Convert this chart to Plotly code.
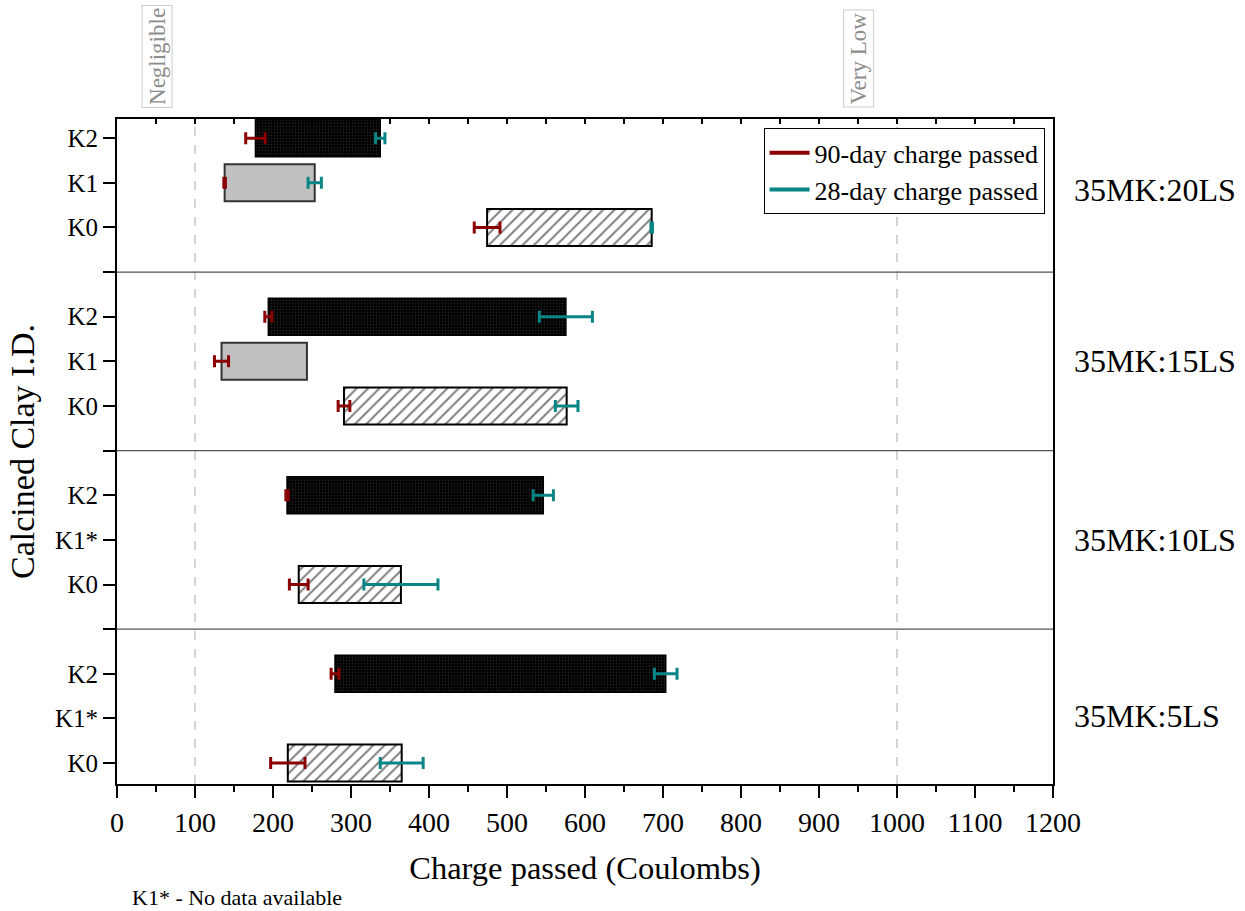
import plotly.graph_objects as go

# ---------------- data ----------------
panels = ["35MK:5LS", "35MK:10LS", "35MK:15LS", "35MK:20LS"]
k1_labels = ["K1*", "K1*", "K1", "K1"]

# 90-day and 28-day charge passed (Coulombs) with error half-widths
K0_90 = [219, 233, 291, 474.5]
K0_90_err = [22, 12, 7.5, 16.5]
K0_28 = [365, 364, 576.5, 685.5]
K0_28_err = [27.5, 47.5, 14.5, 1]

K1_90 = [None, None, 134, 138]
K1_90_err = [None, None, 9, 1]
K1_28 = [None, None, 243.5, 253.5]
K1_28_err = [None, None, None, 8.5]

K2_90 = [279.5, 218, 194, 177.5]
K2_90_err = [5, 1.5, 4.5, 12.5]
K2_28 = [703.5, 546.5, 575.5, 337.5]
K2_28_err = [14.5, 13, 34, 6]

x_ticks = list(range(0, 1201, 100))
class_lines = [100, 1000]
class_labels = ["Negligible", "Very Low"]

FONT = "Liberation Serif"
RED = "#8B0000"
TEAL = "#0A8585"

# positions for each panel
def pos(i, k):
    return 4 * i + k

fig = go.Figure()

def span(a, b):
    return [None if (p is None or q is None) else q - p for p, q in zip(a, b)]

ys0 = [pos(i, 0) for i in range(4)]
ys1 = [pos(i, 1) for i in range(4)]
ys2 = [pos(i, 2) for i in range(4)]

# K0 hatched bars
fig.add_trace(go.Bar(
    y=ys0, x=span(K0_90, K0_28), base=K0_90, orientation="h", width=0.83,
    marker=dict(color="white", line=dict(color="black", width=2),
                pattern=dict(shape="/", bgcolor="white", fgcolor="black", size=8, solidity=0.25)),
    showlegend=False, hoverinfo="skip"))
# K1 grey bars
fig.add_trace(go.Bar(
    y=ys1, x=span(K1_90, K1_28), base=K1_90, orientation="h", width=0.83,
    marker=dict(color="#C0C0C0", line=dict(color="#333333", width=2)),
    showlegend=False, hoverinfo="skip"))
# K2 dark dotted bars
fig.add_trace(go.Bar(
    y=ys2, x=span(K2_90, K2_28), base=K2_90, orientation="h", width=0.83,
    marker=dict(color="black", line=dict(color="black", width=1.5),
                pattern=dict(shape=".", bgcolor="black", fgcolor="#3c3c3c", size=3, solidity=0.3)),
    showlegend=False, hoverinfo="skip"))

# error bars (points without an error value are not drawn)
def add_err(xs, errs, ys, color):
    xx = [x if e is not None else None for x, e in zip(xs, errs)]
    ee = [e if e is not None else 0 for e in errs]
    fig.add_trace(go.Scatter(
        x=xx, y=ys, mode="markers",
        marker=dict(size=1, color=color, opacity=0),
        error_x=dict(type="data", array=ee, symmetric=True, color=color, thickness=3, width=6),
        showlegend=False, hoverinfo="skip"))

add_err(K0_90, K0_90_err, ys0, RED)
add_err(K1_90, K1_90_err, ys1, RED)
add_err(K2_90, K2_90_err, ys2, RED)
add_err(K0_28, K0_28_err, ys0, TEAL)
add_err(K1_28, K1_28_err, ys1, TEAL)
add_err(K2_28, K2_28_err, ys2, TEAL)

# legend entries
fig.add_trace(go.Scatter(x=[None], y=[None], mode="lines", line=dict(color=RED, width=4),
                         name="90-day charge passed"))
fig.add_trace(go.Scatter(x=[None], y=[None], mode="lines", line=dict(color=TEAL, width=4),
                         name="28-day charge passed"))
# invisible trace for top axis
fig.add_trace(go.Scatter(x=[0], y=[0], xaxis="x2", mode="markers",
                         marker=dict(opacity=0), showlegend=False, hoverinfo="skip"))

# y ticks
tickvals, ticktext = [], []
for i in range(4):
    tickvals += [pos(i, 0), pos(i, 1), pos(i, 2)]
    ticktext += ["K0", k1_labels[i], "K2"]
    if i < 3:
        tickvals.append(pos(i, 3))
        ticktext.append("")

shapes = []
for i in range(3):
    shapes.append(dict(type="line", xref="paper", x0=0, x1=1, yref="y", y0=pos(i, 3), y1=pos(i, 3),
                       line=dict(color="#555555", width=1.2), layer="above"))
for v in class_lines:
    shapes.append(dict(type="line", xref="x", x0=v, x1=v, yref="paper", y0=0, y1=1,
                       line=dict(color="#c8c8c8", width=1.5, dash="dash"), layer="below"))

annotations = []
label_y = [1.05, 5.0, 9.0, 12.85]
for i, name in enumerate(panels):
    annotations.append(dict(text=name, xref="paper", x=1.0205, xanchor="left",
                            yref="y", y=label_y[i], yanchor="middle", showarrow=False,
                            font=dict(family=FONT, size=32, color="black")))
for v, lab in zip(class_lines, class_labels):
    annotations.append(dict(text=lab, xref="x", x=v - 49, xanchor="center",
                            yref="paper", y=1.017, yanchor="bottom", textangle=-90, showarrow=False,
                            font=dict(family=FONT, size=23, color="#8c8c8c"),
                            bordercolor="#cccccc", borderwidth=1, borderpad=2, bgcolor="white"))
annotations.append(dict(text="K1* - No data available", xref="paper", x=0.0139, xanchor="left",
                        yref="paper", y=-0.171, yanchor="middle", showarrow=False,
                        font=dict(family=FONT, size=22, color="black")))

fig.update_layout(
    width=1245, height=911,
    margin=dict(l=117, r=192, t=119, b=127),
    paper_bgcolor="white", plot_bgcolor="white",
    barmode="overlay",
    font=dict(family=FONT, color="black"),
    xaxis=dict(range=[0, 1200], tickvals=x_ticks, ticks="outside", ticklen=12, tickwidth=2,
               tickcolor="black", showline=True, linecolor="black", linewidth=2, mirror=True,
               showgrid=False, zeroline=False, tickfont=dict(family=FONT, size=28),
               minor=dict(dtick=50, ticks="outside", ticklen=6, tickwidth=2, tickcolor="black"),
               title=dict(text="Charge passed (Coulombs)", font=dict(family=FONT, size=32.5), standoff=20)),
    xaxis2=dict(range=[0, 1200], overlaying="x", side="top", dtick=50, tick0=0, ticks="inside",
                ticklen=5, tickwidth=2, tickcolor="black", showticklabels=False, showgrid=False,
                zeroline=False, showline=False),
    yaxis=dict(range=[-0.47, 14.43], tickvals=tickvals, ticktext=ticktext, ticks="outside",
               ticklen=12, tickwidth=2, tickcolor="black", showline=True, linecolor="black",
               linewidth=2, mirror=True, showgrid=False, zeroline=False,
               tickfont=dict(family=FONT, size=25),
               title=dict(text="Calcined Clay I.D.", font=dict(family=FONT, size=34), standoff=10)),
    legend=dict(x=0.991, xanchor="right", y=0.986, yanchor="top", bgcolor="white",
                bordercolor="black", borderwidth=1, font=dict(family=FONT, size=26),
                itemwidth=40, tracegroupgap=0),
    shapes=shapes, annotations=annotations,
)

fig.write_html("out.html")
